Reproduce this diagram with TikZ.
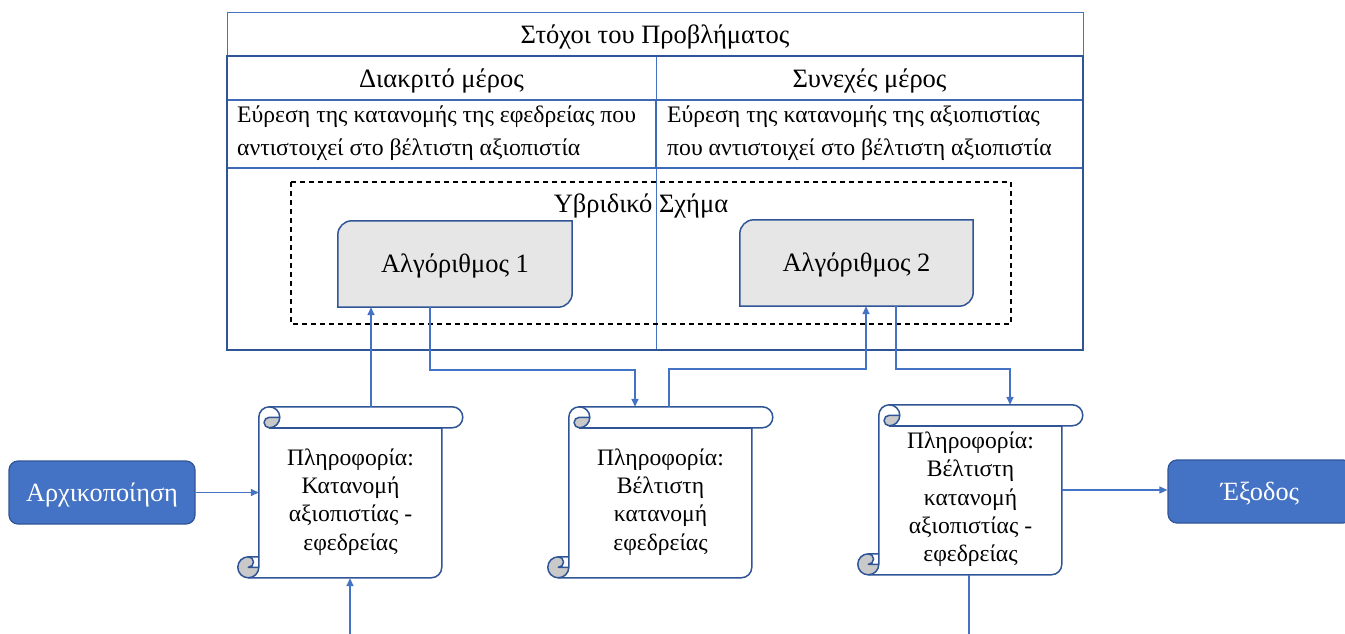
\documentclass[tikz,border=0pt]{standalone}
\usepackage{fontspec}
\setmainfont{Liberation Serif}
\usetikzlibrary{arrows.meta,backgrounds,calc}
\definecolor{dkblue}{HTML}{2F5597}
\definecolor{mdblue}{HTML}{4472C4}
\definecolor{algofill}{HTML}{E6E6E6}
\definecolor{curlgray}{HTML}{C9C9C9}
\tikzset{
  thinline/.style={draw=mdblue, line width=0.8pt},
  medline/.style={draw=mdblue!70!dkblue, line width=1.1pt},
  darkline/.style={draw=dkblue, line width=1.6pt},
  arr/.style={draw=mdblue, line width=1.5pt, -{Triangle[length=8pt,width=7pt]}},
  plainconn/.style={draw=mdblue, line width=1.5pt},
  txt/.style={inner sep=0pt, text height=17.5pt, text depth=0pt, font=\fontsize{26.5}{31}\selectfont},
  desctxt/.style={inner sep=0pt, anchor=west, align=left, font=\fontsize{23.7}{33}\selectfont},
  algonode/.style={inner sep=0pt, text height=17.5pt, text depth=0pt, font=\fontsize{26.5}{31}\selectfont},
  scrollnode/.style={inner sep=0pt, font=\fontsize{23.6}{28.3}\selectfont},
  bluebox/.style={draw=dkblue, fill=mdblue, line width=1.2pt, rounded corners=9pt, text=white, inner sep=0pt, text height=17.4pt, text depth=0pt, font=\fontsize{26.3}{31}\selectfont},
  scrollline/.style={draw=dkblue, line width=1.5pt, line join=round},
}
\newcommand\stext[1]{\raisebox{-9.5pt}[\height][\depth]{\begin{tabular}{@{}c@{}}#1\end{tabular}}}
% scroll shape drawn around a body node: #1 node name, #2 body width, #3 body height
\newcommand\drawscroll[3]{%
  \begin{scope}[shift={(#1.north west)}]
    \def\c{21}\def\h{10.5}\def\q{5.25}
    \fill[white] (0,#3-\c) -- (0,\h) arc[start angle=180,delta angle=90,radius=\h]
      -- (#2+\c-\h,0) arc[start angle=270,delta angle=180,radius=\h]
      -- (#2,\c) -- (#2,#3-\h) arc[start angle=0,delta angle=90,radius=\h]
      -- (-\h,#3) arc[start angle=90,delta angle=180,radius=\h] -- cycle;
    \fill[curlgray] (\c,\h) arc[start angle=0,delta angle=90,radius=\h]
      arc[start angle=90,delta angle=180,radius=\q] -- cycle;
    \fill[curlgray] (0,#3-\h) arc[start angle=0,delta angle=270,radius=\h]
      arc[start angle=270,delta angle=180,radius=\q] -- cycle;
    \path[scrollline] (0,#3-\c) -- (0,\h) arc[start angle=180,delta angle=90,radius=\h]
      -- (#2+\c-\h,0) arc[start angle=270,delta angle=180,radius=\h]
      -- (#2,\c) -- (#2,#3-\h) arc[start angle=0,delta angle=90,radius=\h]
      -- (-\h,#3) arc[start angle=90,delta angle=180,radius=\h] -- cycle;
    \path[scrollline] (\h,0) arc[start angle=270,delta angle=180,radius=\h]
      arc[start angle=90,delta angle=180,radius=\q] -- (\c,\h);
    \path[scrollline] (#2,\c) -- (\h,\c);
    \path[scrollline] (-\h,#3-\c) arc[start angle=270,delta angle=180,radius=\q] -- (0,#3-\h);
    \path[scrollline] (-\h,#3) arc[start angle=90,delta angle=-90,radius=\h] -- (0,#3-\c);
  \end{scope}}
\newcommand\drawalgo[1]{%
  \path[draw=dkblue, fill=algofill, line width=1.5pt]
    ([yshift=-14pt]#1.north west) arc[start angle=180,end angle=90,radius=14pt]
    -- (#1.north east) -- ([yshift=14pt]#1.south east)
    arc[start angle=0,end angle=-90,radius=14pt] -- (#1.south west) -- cycle;}
\begin{document}
\begin{tikzpicture}[x=1pt,y=-1pt]
\useasboundingbox (0,0) rectangle (1345,634);
% ---- table ----
\path[thinline] (227,12) rectangle (1083,56);
\path[thinline] (656,56) -- (656,100);
\path[thinline] (656,168) -- (656,350);
\path[medline] (227,100) -- (1083,100);
\path[medline] (227,168) -- (1083,168);
\path[medline] (656,100) -- (656,168);
\path[darkline] (227,56) rectangle (1083,350);
\node[txt] (title) at (655,35) {Στόχοι του Προβλήματος};
\node[txt] (hdr1) at (441.5,79) {Διακριτό μέρος};
\node[txt] (hdr2) at (869.5,79) {Συνεχές μέρος};
\node[desctxt] (desc1) at (237,133.5)
  {Εύρεση της κατανομής της εφεδρείας που\\αντιστοιχεί στο βέλτιστη αξιοπιστία};
\node[desctxt] (desc2) at (667,133.5)
  {Εύρεση της κατανομής της αξιοπιστίας\\που αντιστοιχεί στο βέλτιστη αξιοπιστία};
% ---- hybrid scheme ----
\path[draw=black, line width=1.3pt, dash pattern=on 5pt off 4pt] (291,182) rectangle (1011,324);
\node[txt] (hyb) at (641,203.5) {Υβριδικό Σχήμα};
\node[algonode, minimum width=234pt, minimum height=86pt] (algo1) at (455,264) {Αλγόριθμος 1};
\node[algonode, minimum width=233pt, minimum height=86pt] (algo2) at (856.5,263) {Αλγόριθμος 2};
% ---- scrolls ----
\node[scrollnode, minimum width=183pt, minimum height=171pt] (s1) at (350.5,492.5)
  {\stext{Πληροφορία:\\Κατανομή\\αξιοπιστίας -\\εφεδρείας}};
\node[scrollnode, minimum width=183pt, minimum height=171pt] (s2) at (660.5,492.5)
  {\stext{Πληροφορία:\\Βέλτιστη\\κατανομή\\εφεδρείας}};
\node[scrollnode, minimum width=183pt, minimum height=170pt] (s3) at (970.5,490)
  {\stext{Πληροφορία:\\Βέλτιστη\\κατανομή\\αξιοπιστίας -\\εφεδρείας}};
\begin{pgfonlayer}{background}
  \drawalgo{algo1}
  \drawalgo{algo2}
  \drawscroll{s1}{183}{171}
  \drawscroll{s2}{183}{171}
  \drawscroll{s3}{183}{170}
\end{pgfonlayer}
% ---- start / end ----
\node[bluebox, minimum width=186pt, minimum height=63pt] (init) at (102,492.5) {Αρχικοποίηση};
\node[bluebox, minimum width=184pt, minimum height=63pt] (exit) at (1260,491.5) {Έξοδος};
\coordinate (b1) at (350,634);
\coordinate (b3) at (969,634);
% ---- connectors ----
\draw[arr] (init.east) -- (init.east -| s1.west);
\draw[arr] ([xshift=20.5pt]s1.north) -- ([xshift=20.5pt]s1.north |- algo1.south);
\draw[arr] ([xshift=-25pt]algo1.south) -- ++(0,63) -| ([xshift=-25.5pt]s2.north);
\draw[arr] ([xshift=8.5pt]s2.north) -- ++(0,-38) -| ([xshift=9.5pt]algo2.south);
\draw[arr] ([xshift=39.5pt]algo2.south) -- ++(0,63) -| ([xshift=39.5pt]s3.north);
\draw[arr] (s3.east) -- (s3.east -| exit.west);
\draw[arr] (b1) -- (b1 |- s1.south);
\draw[plainconn] ([xshift=-1.5pt]s3.south) -- (b3);
\end{tikzpicture}
\end{document}
